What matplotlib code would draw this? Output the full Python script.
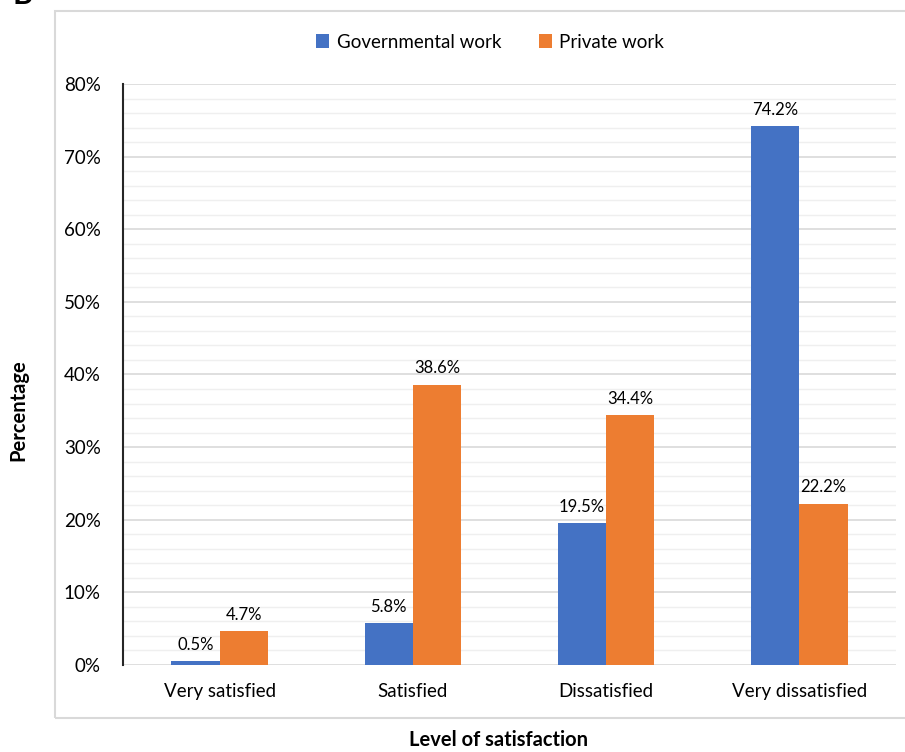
import numpy as np
import matplotlib.pyplot as plt
from matplotlib.patches import Rectangle
from matplotlib.ticker import MultipleLocator, PercentFormatter

# data
categories = ['Very satisfied', 'Satisfied', 'Dissatisfied', 'Very dissatisfied']
governmental = [0.5, 5.8, 19.5, 74.2]
private = [4.7, 38.6, 34.4, 22.2]

plt.rcParams['font.family'] = ['Lato', 'DejaVu Sans']

fig = plt.figure(figsize=(9.05, 7.52), dpi=100)
ax = fig.add_axes([0.1359, 0.1157, 0.854, 0.7726])

# outer frame around the chart
fig.patches.append(Rectangle((0.0608, 0.0452), 1.0, 0.9402, transform=fig.transFigure,
                             fill=False, edgecolor='#d9d9d9', lw=1.5, zorder=0))
# cut-off panel letter
fig.text(0.014, 1 - 4 / 752, 'B', fontsize=22, fontweight='bold', va='baseline')

x = np.arange(len(categories))
w = 0.25
b1 = ax.bar(x - w / 2, governmental, w, color='#4472C4', label='Governmental work', zorder=3)
b2 = ax.bar(x + w / 2, private, w, color='#ED7D31', label='Private work', zorder=3)

for bars, vals in ((b1, governmental), (b2, private)):
    for b, v in zip(bars, vals):
        ax.annotate(f'{v}%', (b.get_x() + b.get_width() / 2, v), xytext=(0, 6),
                    textcoords='offset points', ha='center', va='bottom', fontsize=12)

ax.set_xlim(-0.5, 3.5)
ax.set_ylim(0, 80)
ax.yaxis.set_major_locator(MultipleLocator(10))
ax.yaxis.set_minor_locator(MultipleLocator(2))
ax.yaxis.set_major_formatter(PercentFormatter(decimals=0))
ax.grid(axis='y', which='major', color='#d9d9d9', lw=1.2, zorder=0)
ax.grid(axis='y', which='minor', color='#efefef', lw=1.0, zorder=0)
ax.tick_params(axis='y', which='both', length=0, pad=16, labelsize=13.5)
ax.tick_params(axis='x', length=0, pad=13, labelsize=13.5)
ax.set_xticks(x)
ax.set_xticklabels(categories)

for s in ('top', 'right', 'bottom'):
    ax.spines[s].set_visible(False)
ax.spines['left'].set_color('#262626')
ax.spines['left'].set_linewidth(1.5)

fig.text(18 / 905, 1 - 410 / 752, 'Percentage', rotation=90, fontsize=14.5,
         fontweight='bold', ha='center', va='center')
fig.text(498 / 905, 1 - 740 / 752, 'Level of satisfaction', fontsize=14.5,
         fontweight='bold', ha='center', va='center')

fig.legend(loc='center', bbox_to_anchor=(0.5414, 0.944), ncol=2, frameon=False,
           fontsize=13.5, handlelength=0.7, handleheight=0.7, columnspacing=2.0,
           handletextpad=0.4)

fig.savefig('out.png', dpi=100)
